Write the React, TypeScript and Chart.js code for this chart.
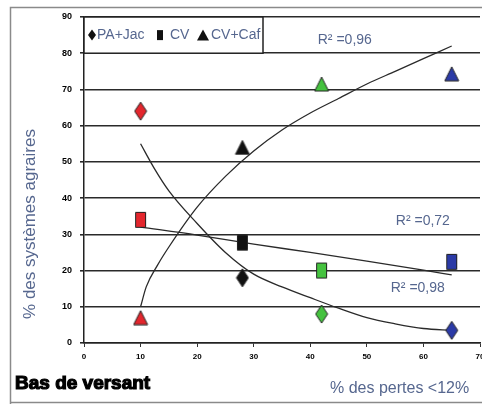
import React, { useEffect, useRef } from "react";
import { Chart, registerables } from "chart.js";

Chart.register(...registerables);

// ---- data ----
const xValues = [10, 28, 42, 65];
const paJac = [64, 18, 8, 3.5];
const cv = [34, 27.7, 20, 22.4];
const cvCaf = [7, 54, 71.5, 74.3];
const pointColors = ["#e3262d", "#111111", "#45c23f", "#2b3aa6"];
const seriesNames = ["PA+Jac", "CV", "CV+Caf"];

const paJacTrendX = [10, 12.5, 15, 20, 25, 30, 35, 40, 45, 50, 55, 60, 65];
const paJacTrendY = [55, 48, 42, 33, 25, 19, 15.5, 12.5, 9.6, 7, 5.3, 4, 3.5];
const cvTrendX = [10, 20, 30, 40, 50, 60, 65];
const cvTrendY = [32, 29.8, 27.3, 25, 22.6, 20.1, 18.8];
const cvCafTrendX = [10, 11, 13, 15, 20, 25, 30, 35, 40, 45, 50, 55, 60, 65];
const cvCafTrendY = [10, 15.5, 21.5, 26.5, 37.5, 46, 53, 58.8, 63.5, 67.5, 71.5, 75, 78.5, 82];

const r2Texts = ["R² =0,96", "R² =0,72", "R² =0,98"];
const xTickValues = [0, 10, 20, 30, 40, 50, 60, 70];
const yTickValues = [0, 10, 20, 30, 40, 50, 60, 70, 80, 90];

const xTitle = "% des pertes <12%";
const yTitle = "% des systèmes agraires";
const cornerTitle = "Bas de versant";

// label anchors (data coordinates)
const r2Anchors = [
  { x: 46.1, y: 83.7 },
  { x: 59.9, y: 33.7 },
  { x: 59.0, y: 15.2 },
];

const FONT = "'Liberation Sans', Arial, sans-serif";
const TEXT_BLUE = "#56678f";

type Shape = "diamond" | "square" | "triangle";

function makeMarker(shape: Shape, color: string, w: number, h: number): HTMLCanvasElement {
  const c = document.createElement("canvas");
  c.width = w + 2;
  c.height = h + 2;
  const ctx = c.getContext("2d")!;
  ctx.fillStyle = color;
  ctx.strokeStyle = "#222";
  ctx.lineWidth = 1;
  ctx.beginPath();
  const ox = 1, oy = 1;
  if (shape === "diamond") {
    ctx.moveTo(ox + w / 2, oy);
    ctx.lineTo(ox + w, oy + h / 2);
    ctx.lineTo(ox + w / 2, oy + h);
    ctx.lineTo(ox, oy + h / 2);
    ctx.closePath();
  } else if (shape === "square") {
    ctx.rect(ox + 0.5, oy + 0.5, w - 1, h - 1);
  } else {
    ctx.moveTo(ox + w / 2, oy);
    ctx.lineTo(ox + w, oy + h);
    ctx.lineTo(ox, oy + h);
    ctx.closePath();
  }
  ctx.fill();
  ctx.stroke();
  return c;
}

function drawShape(ctx: CanvasRenderingContext2D, shape: Shape, cx: number, cy: number, w: number, h: number) {
  ctx.beginPath();
  if (shape === "diamond") {
    ctx.moveTo(cx, cy - h / 2);
    ctx.lineTo(cx + w / 2, cy);
    ctx.lineTo(cx, cy + h / 2);
    ctx.lineTo(cx - w / 2, cy);
    ctx.closePath();
  } else if (shape === "square") {
    ctx.rect(cx - w / 2, cy - h / 2, w, h);
  } else {
    ctx.moveTo(cx, cy - h / 2);
    ctx.lineTo(cx + w / 2, cy + h / 2);
    ctx.lineTo(cx - w / 2, cy + h / 2);
    ctx.closePath();
  }
  ctx.fill();
}

export default function App() {
  const ref = useRef<HTMLCanvasElement | null>(null);

  useEffect(() => {
    document.body.style.margin = "0";
    document.body.style.overflow = "hidden";
    const canvas = ref.current!;

    const diamonds = pointColors.map((c) => makeMarker("diamond", c, 12, 18));
    const squares = pointColors.map((c) => makeMarker("square", c, 11, 16));
    const triangles = pointColors.map((c) => makeMarker("triangle", c, 14, 14));

    const toPts = (xs: number[], ys: number[]) => xs.map((x, i) => ({ x, y: ys[i] }));

    const trendStyle = {
      type: "line" as const,
      showLine: true,
      pointRadius: 0,
      borderColor: "#2a2a2a",
      borderWidth: 1.3,
      cubicInterpolationMode: "monotone" as const,
      fill: false,
    };

    const decor = {
      id: "decor",
      beforeDraw(chart: any) {
        const ctx = chart.ctx as CanvasRenderingContext2D;
        ctx.save();
        ctx.fillStyle = "#fff";
        ctx.fillRect(0, 0, chart.width, chart.height);
        ctx.strokeStyle = "#8a8a8a";
        ctx.lineWidth = 1.5;
        ctx.beginPath();
        ctx.moveTo(10.5, 420);
        ctx.lineTo(10.5, 7.5);
        ctx.lineTo(500, 7.5);
        ctx.moveTo(10.5, 402.5);
        ctx.lineTo(500, 402.5);
        ctx.stroke();
        ctx.restore();
      },
      afterDatasetsDraw(chart: any) {
        const ctx = chart.ctx as CanvasRenderingContext2D;
        const xs = chart.scales.x;
        const ys = chart.scales.y;
        ctx.save();
        // legend box
        const top = ys.getPixelForValue(90);
        const bottom = ys.getPixelForValue(80);
        const left = xs.getPixelForValue(0);
        const right = 263;
        ctx.fillStyle = "#fff";
        ctx.fillRect(left, top, right - left, bottom - top);
        ctx.strokeStyle = "#222";
        ctx.lineWidth = 1.5;
        ctx.strokeRect(left, top, right - left, bottom - top);
        const my = (top + bottom) / 2;
        ctx.fillStyle = "#111";
        drawShape(ctx, "diamond", 92, my, 8, 11);
        drawShape(ctx, "square", 160, my, 6, 10);
        drawShape(ctx, "triangle", 203, my, 12, 11);
        ctx.font = `14px ${FONT}`;
        ctx.fillStyle = TEXT_BLUE;
        ctx.textBaseline = "middle";
        ctx.textAlign = "left";
        ctx.fillText(seriesNames[0], 97, my);
        ctx.fillText(seriesNames[1], 170, my);
        ctx.fillText(seriesNames[2], 211, my);

        // R² labels
        ctx.textAlign = "center";
        r2Texts.forEach((t, i) => {
          ctx.fillText(t, xs.getPixelForValue(r2Anchors[i].x), ys.getPixelForValue(r2Anchors[i].y));
        });

        // axis titles
        ctx.font = `16px ${FONT}`;
        ctx.textAlign = "left";
        ctx.fillText(xTitle, 330, 389);

        ctx.save();
        ctx.translate(30, 224);
        ctx.rotate(-Math.PI / 2);
        ctx.font = `17px ${FONT}`;
        ctx.textAlign = "center";
        ctx.fillText(yTitle, 0, 0);
        ctx.restore();

        ctx.font = `bold 19px ${FONT}`;
        ctx.fillStyle = "#000";
        ctx.strokeStyle = "#000";
        ctx.lineWidth = 1.2;
        ctx.textAlign = "left";
        ctx.strokeText(cornerTitle, 15, 384);
        ctx.fillText(cornerTitle, 15, 384);
        ctx.restore();
      },
    };

    const chart = new Chart(canvas, {
      type: "scatter",
      data: {
        datasets: [
          {
            label: seriesNames[0],
            data: toPts(xValues, paJac),
            pointStyle: diamonds as any,
            pointRadius: 9,
          },
          {
            label: seriesNames[1],
            data: toPts(xValues, cv),
            pointStyle: squares as any,
            pointRadius: 9,
          },
          {
            label: seriesNames[2],
            data: toPts(xValues, cvCaf),
            pointStyle: triangles as any,
            pointRadius: 9,
          },
          { ...trendStyle, label: "t1", data: toPts(paJacTrendX, paJacTrendY) } as any,
          { ...trendStyle, label: "t2", data: toPts(cvTrendX, cvTrendY) } as any,
          { ...trendStyle, label: "t3", data: toPts(cvCafTrendX, cvCafTrendY) } as any,
        ],
      },
      options: {
        responsive: false,
        animation: false,
        layout: { autoPadding: false, padding: { left: 0, right: 2, top: 17, bottom: 0 } } as any,
        plugins: {
          legend: { display: false },
          tooltip: { enabled: false },
        },
        scales: {
          x: {
            type: "linear",
            min: 0,
            max: 70,
            afterFit: (s: any) => {
              s.height = 61;
              s.paddingLeft = 0;
              s.paddingRight = 0;
            },
            afterBuildTicks: (s: any) => {
              s.ticks = xTickValues.map((v) => ({ value: v }));
            },
            ticks: {
              font: { family: FONT, size: 8, weight: "bold" },
              color: "#000",
              padding: 5,
              maxRotation: 0,
            },
            grid: {
              drawOnChartArea: false,
              drawTicks: true,
              tickLength: 4,
              color: "#333",
              lineWidth: 1,
            },
            border: { color: "#222", width: 1.5 },
          },
          y: {
            type: "linear",
            min: 0,
            max: 90,
            afterFit: (s: any) => {
              s.width = 84;
              s.paddingTop = 0;
              s.paddingBottom = 0;
            },
            afterBuildTicks: (s: any) => {
              s.ticks = yTickValues.map((v) => ({ value: v }));
            },
            ticks: {
              font: { family: FONT, size: 9, weight: "bold" },
              color: "#000",
              padding: 8,
            },
            grid: {
              drawOnChartArea: true,
              drawTicks: true,
              tickLength: 4,
              color: "#2a2a2a",
              lineWidth: 1.6,
            },
            border: { color: "#222", width: 1.5 },
          },
        },
      },
      plugins: [decor],
    });

    return () => chart.destroy();
  }, []);

  return (
    <div style={{ width: 482, height: 404, overflow: "hidden" }}>
      <canvas ref={ref} width={482} height={404} style={{ display: "block" }} />
    </div>
  );
}
